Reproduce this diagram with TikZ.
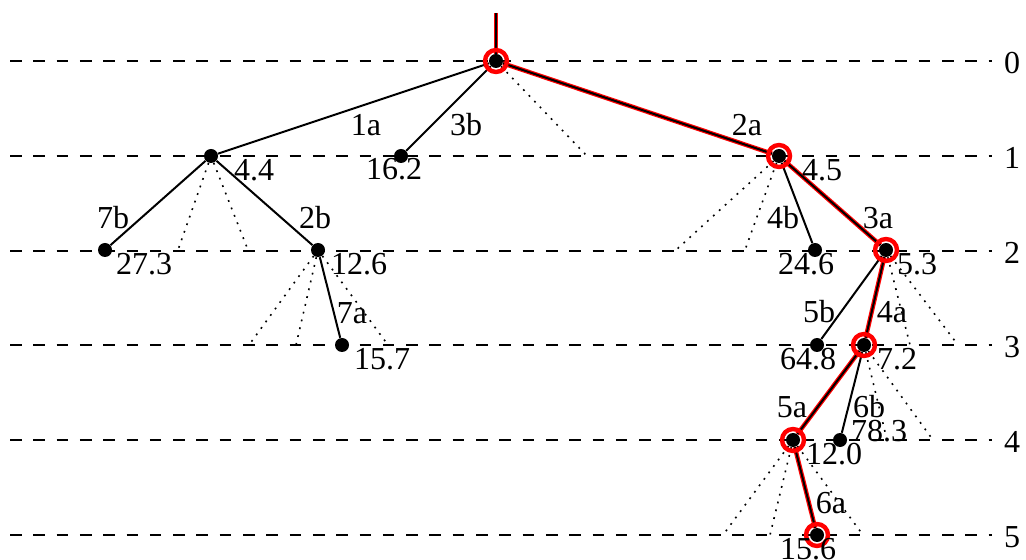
\documentclass[tikz,border=0pt]{standalone}
\usepackage{fontspec}
\setmainfont{Liberation Serif}

\begin{document}
\begin{tikzpicture}[x=0.5pt, y=-0.5pt,
	every node/.style={font=\fontsize{16}{19}\selectfont, inner sep=0pt},
	dot/.style={circle, fill=black, minimum size=7pt},
	level/.style={line width=1pt, dash pattern=on 5.8pt off 5.85pt},
	stub/.style={line width=0.8pt, dash pattern=on 0.9pt off 3.1pt},
	edge/.style={line width=1pt},
	hl/.style={red, line width=2.2pt},
	ring/.style={red, line width=2.2pt}]
	\useasboundingbox (0,0) rectangle (1026,560);
	\foreach \k in {0,...,5} {
		\draw[level] (10,{61+\k*94.8}) -- (992,{61+\k*94.8});
		\node (lv\k) at (1012,{63+\k*94.8}) {\k};
	}
	% tree nodes
	\coordinate (top) at (496,13);
	\node[dot] (rt) at (496,61) {};
	\node[dot] (n44) at (211,156) {};
	\node[dot] (n162) at (401,156) {};
	\node[dot] (n45) at (779,156) {};
	\node[dot] (n273) at (105,250) {};
	\node[dot] (n126) at (318,250) {};
	\node[dot] (n246) at (815,250) {};
	\node[dot] (n53) at (886,250) {};
	\node[dot] (n157) at (342,345) {};
	\node[dot] (n648) at (817,345) {};
	\node[dot] (n72) at (864,345) {};
	\node[dot] (n120) at (793,440) {};
	\node[dot] (n783) at (840,440) {};
	\node[dot] (n156) at (817,535) {};
	% unexplored branches
	\foreach \p/\x/\y [count=\i] in {rt/587/156, n44/178/250, n44/248/250, n45/676/250, n45/745/250,
		n126/249/345, n126/296/345, n126/388/345, n53/910/345, n53/958/345,
		n72/887/440, n72/933/440, n120/723/535, n120/770/535, n120/863/535} {
		\coordinate (s\i) at (\x,\y);
		\draw[stub] (\p) -- (s\i);
	}
	\foreach \a/\b in {rt/n44, rt/n162, n44/n273, n44/n126, n126/n157, n45/n246, n53/n648, n72/n783}
		\draw[edge] (\a) -- (\b);
	\foreach \a/\b in {top/rt, rt/n45, n45/n53, n53/n72, n72/n120, n120/n156} {
		\draw[hl] (\a) -- (\b);
		\draw[edge] (\a) -- (\b);
	}
	\foreach \n in {rt, n45, n53, n72, n120, n156}
		\draw[ring] (\n) circle (5.5pt);
	% branch labels
	\node (l1a) at (366,125) {1a};
	\node (l3b) at (466,125) {3b};
	\node (l2a) at (747,125) {2a};
	\node (l7b) at (113,218) {7b};
	\node (l2b) at (315,218) {2b};
	\node (l4b) at (783,218) {4b};
	\node (l3a) at (878,218) {3a};
	\node (l7a) at (352,313) {7a};
	\node (l5b) at (819,312) {5b};
	\node (l4a) at (892,312) {4a};
	\node (l5a) at (792,407) {5a};
	\node (l6b) at (869,407) {6b};
	\node (l6a) at (831,503) {6a};
	% node values
	\node (v44) at (254,170) {4.4};
	\node (v162) at (394,169) {16.2};
	\node (v45) at (822,170) {4.5};
	\node (v273) at (144,264) {27.3};
	\node (v126) at (359,264) {12.6};
	\node (v246) at (806,264) {24.6};
	\node (v53) at (917,264) {5.3};
	\node (v157) at (382,359) {15.7};
	\node (v648) at (808,359) {64.8};
	\node (v72) at (897,359) {7.2};
	\node (v783) at (879,431) {78.3};
	\node (v120) at (834,454) {12.0};
	\node (v156) at (808,549) {15.6};
\end{tikzpicture}
\end{document}
